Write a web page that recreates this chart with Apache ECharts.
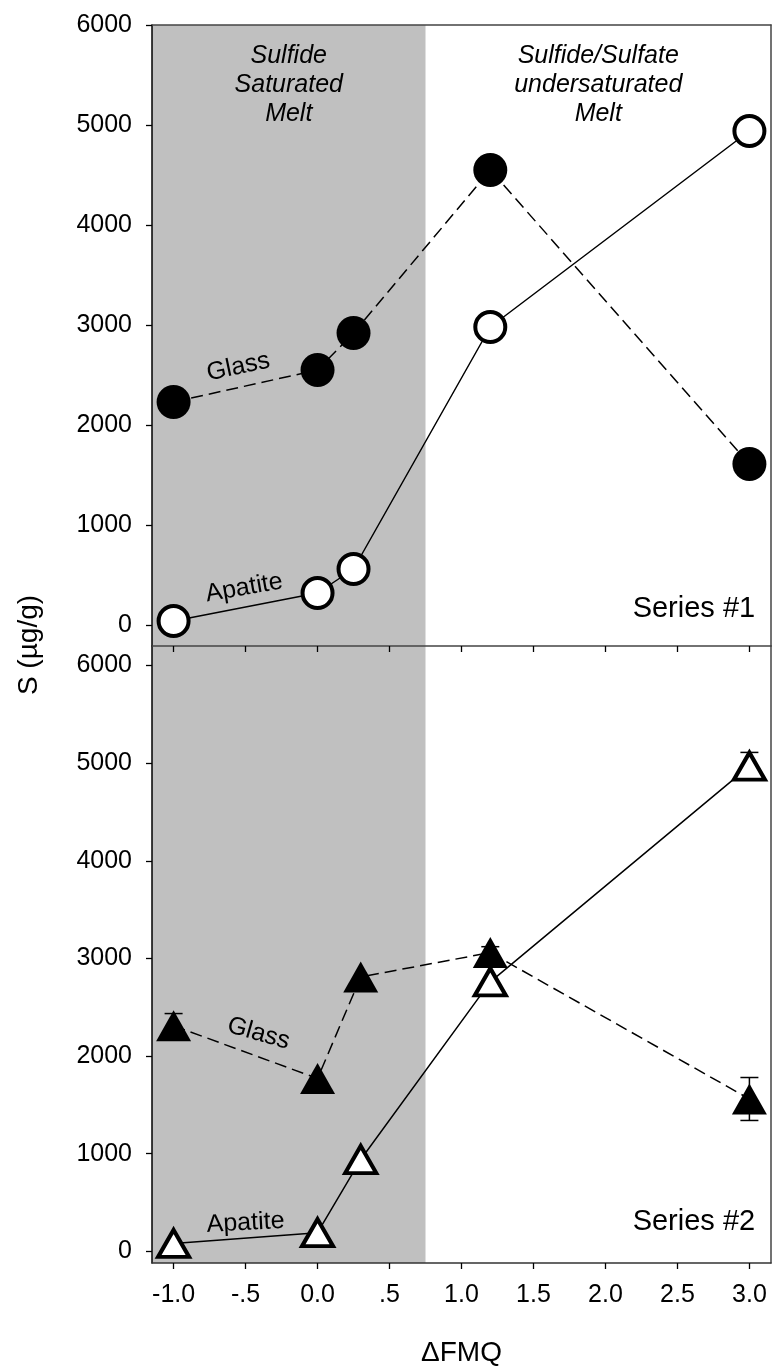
<!DOCTYPE html>
<html><head><meta charset="utf-8">
<script src="https://cdn.jsdelivr.net/npm/echarts@6/dist/echarts.min.js"></script>
<style>html,body{margin:0;padding:0;background:#fff}#c{width:773px;height:1368px}</style>
</head><body><div id="c"></div><script>
// ---- data ----
const xTickValues = [-1, -0.5, 0, 0.5, 1, 1.5, 2, 2.5, 3];
const xTickLabels = ['-1.0', '-.5', '0.0', '.5', '1.0', '1.5', '2.0', '2.5', '3.0'];
const yTickValues = [0, 1000, 2000, 3000, 4000, 5000, 6000];
const yTickLabels = ['0', '1000', '2000', '3000', '4000', '5000', '6000'];
const saturationLimit = 0.75;

const xTop = [-1.0, 0.0, 0.25, 1.2, 3.0];
const glassTop = [2230, 2550, 2920, 4550, 1610];
const apatiteTop = [40, 320, 560, 2980, 4940];

const xBottom = [-1.0, 0.0, 0.3, 1.2, 3.0];
const glassBottom = [2310, 1770, 2810, 3060, 1560];
const glassBottomErr = [125, 0, 0, 60, 220];
const apatiteBottom = [80, 190, 940, 2760, 4970];
const apatiteBottomErr = [0, 0, 0, 0, 140];

// annotation anchors (data coords)
const annotTop = [
  {text: 'Glass', x: -0.55, y: 2580, rotate: 12},
  {text: 'Apatite', x: -0.51, y: 370, rotate: 10},
  {text: 'Series #1', x: 3.04, y: 160, rotate: 0, align: 'right', big: true},
  {text: 'Sulfide\nSaturated\nMelt', x: -0.2, y: 5400, rotate: 0, italic: true},
  {text: 'Sulfide/Sulfate\nundersaturated\nMelt', x: 1.95, y: 5400, rotate: 0, italic: true}
];
const annotBottom = [
  {text: 'Glass', x: -0.41, y: 2230, rotate: -16},
  {text: 'Apatite', x: -0.5, y: 290, rotate: 3},
  {text: 'Series #2', x: 3.04, y: 300, rotate: 0, align: 'right', big: true}
];

// ---- chart ----
const FONT = '"Liberation Sans", Arial, Helvetica, sans-serif';
const chart = echarts.init(document.getElementById('c'), null, {renderer: 'canvas'});
const zip = (xs, ys) => xs.map((x, i) => [x, ys[i]]);
const lookup = (vals, labels) => v => {
  const i = vals.findIndex(t => Math.abs(t - v) < 1e-9);
  return i >= 0 ? labels[i] : '';
};
const xLabelFmt = lookup(xTickValues, xTickLabels);
const yLabelFmt = lookup(yTickValues, yTickLabels);

function xAxisBase(gridIndex, extra) {
  return Object.assign({
    type: 'value', gridIndex, min: -1.15, max: 3.15, z: 10,
    splitLine: {show: false},
    axisLine: {show: true, onZero: false, lineStyle: {color: '#444', width: 1.5}},
    axisTick: {show: true, customValues: xTickValues, length: 6, lineStyle: {color: '#000', width: 1.3}},
    axisLabel: {show: false}
  }, extra);
}
function yAxisBase(gridIndex, min, max, extra) {
  return Object.assign({
    type: 'value', gridIndex, min, max, z: 10,
    splitLine: {show: false},
    axisLine: {show: true, onZero: false, lineStyle: {color: '#000', width: 1.5}},
    axisTick: {show: true, customValues: yTickValues, length: 6, lineStyle: {color: '#000', width: 1.3}},
    axisLabel: {show: true, customValues: yTickValues, formatter: yLabelFmt, fontSize: 25, fontFamily: FONT, color: '#000', margin: 20}
  }, extra);
}
const plainLine = {show: true, onZero: false, lineStyle: {color: '#444', width: 1.5}};

function shadeSeries(xi, yi) {
  return {
    type: 'custom', xAxisIndex: xi, yAxisIndex: yi, z: 1, silent: true,
    data: [[saturationLimit]],
    renderItem(params, api) {
      const cs = params.coordSys;
      const xr = api.coord([api.value(0), 0])[0];
      return {type: 'rect', shape: {x: cs.x, y: cs.y, width: xr - cs.x, height: cs.height},
        style: {fill: '#c0c0c0'}};
    }
  };
}
function annotSeries(list, xi, yi) {
  return {
    type: 'scatter', xAxisIndex: xi, yAxisIndex: yi, z: 6, silent: true,
    symbolSize: 1, itemStyle: {color: 'transparent'},
    data: list.map(a => ({
      value: [a.x, a.y],
      label: {
        show: true, position: 'inside', formatter: a.text, rotate: a.rotate,
        align: a.align || 'center', verticalAlign: 'middle',
        fontSize: a.big ? 29 : 25, fontFamily: FONT, color: '#000',
        textBorderWidth: 0, opacity: 1,
        fontStyle: a.italic ? 'italic' : 'normal', lineHeight: 29
      }
    }))
  };
}
const dashed = {color: '#000', width: 1.5, type: [12, 6]};
const solid = {color: '#000', width: 1.5, type: 'solid'};

const errData = [];
xBottom.forEach((x, i) => {
  if (glassBottomErr[i]) errData.push([x, glassBottom[i] - glassBottomErr[i], glassBottom[i] + glassBottomErr[i]]);
  if (apatiteBottomErr[i]) errData.push([x, apatiteBottom[i] - apatiteBottomErr[i], apatiteBottom[i] + apatiteBottomErr[i]]);
});

chart.setOption({
  animation: false,
  backgroundColor: '#fff',
  grid: [
    {left: 152, width: 619, top: 25, height: 621, containLabel: false},
    {left: 152, width: 619, top: 646, height: 620, containLabel: false}
  ],
  xAxis: [
    xAxisBase(0, {position: 'bottom'}),
    xAxisBase(1, {position: 'bottom',
      axisLine: {show: true, onZero: false, lineStyle: {color: '#333', width: 1.5}},
      axisLabel: {show: true, customValues: xTickValues, formatter: xLabelFmt, fontSize: 25, fontFamily: FONT, color: '#000', margin: 20},
      name: '\u0394FMQ', nameLocation: 'middle', nameGap: 76,
      nameTextStyle: {fontSize: 28, fontFamily: FONT, color: '#000'}}),
    {type: 'value', gridIndex: 0, position: 'top', min: -1.15, max: 3.15, z: 10, axisLine: plainLine,
      axisTick: {show: false}, axisLabel: {show: false}, splitLine: {show: false}},
    {type: 'value', gridIndex: 1, position: 'top', min: -1.15, max: 3.15, z: 10, axisLine: {show: false},
      axisTick: {show: false}, axisLabel: {show: false}, splitLine: {show: false}}
  ],
  yAxis: [
    yAxisBase(0, -210, 6000),
    yAxisBase(1, -120, 6200),
    {type: 'value', gridIndex: 0, position: 'right', min: -210, max: 6000, z: 10, axisLine: plainLine,
      axisTick: {show: false}, axisLabel: {show: false}, splitLine: {show: false}},
    {type: 'value', gridIndex: 1, position: 'right', min: -120, max: 6200, z: 10, axisLine: plainLine,
      axisTick: {show: false}, axisLabel: {show: false}, splitLine: {show: false}}
  ],
  graphic: [
    {type: 'text', x: 29, y: 645, rotation: Math.PI / 2, z: 20,
      style: {text: 'S (\u00b5g/g)', fontSize: 28, fontFamily: FONT, fill: '#000', textAlign: 'center', textVerticalAlign: 'middle'}}
  ],
  series: [
    shadeSeries(0, 0),
    shadeSeries(1, 1),
    {
      type: 'custom', xAxisIndex: 1, yAxisIndex: 1, z: 2, silent: true, data: errData,
      renderItem(params, api) {
        const x = api.value(0);
        const pLo = api.coord([x, api.value(1)]);
        const pHi = api.coord([x, api.value(2)]);
        const w = 9, st = {stroke: '#000', lineWidth: 1.5};
        return {type: 'group', children: [
          {type: 'line', shape: {x1: pLo[0], y1: pLo[1], x2: pHi[0], y2: pHi[1]}, style: st},
          {type: 'line', shape: {x1: pLo[0] - w, y1: pLo[1], x2: pLo[0] + w, y2: pLo[1]}, style: st},
          {type: 'line', shape: {x1: pHi[0] - w, y1: pHi[1], x2: pHi[0] + w, y2: pHi[1]}, style: st}
        ]};
      }
    },
    {
      name: 'Glass #1', type: 'line', xAxisIndex: 0, yAxisIndex: 0, z: 3,
      data: zip(xTop, glassTop), symbol: 'circle', symbolSize: 34, showSymbol: true,
      itemStyle: {color: '#000', borderWidth: 0}, lineStyle: dashed
    },
    {
      name: 'Apatite #1', type: 'line', xAxisIndex: 0, yAxisIndex: 0, z: 4,
      data: zip(xTop, apatiteTop), symbol: 'circle', symbolSize: 30, showSymbol: true,
      itemStyle: {color: '#fff', borderColor: '#000', borderWidth: 4}, lineStyle: solid
    },
    {
      name: 'Glass #2', type: 'line', xAxisIndex: 1, yAxisIndex: 1, z: 3,
      data: zip(xBottom, glassBottom), symbol: 'triangle', symbolSize: [35, 31], showSymbol: true,
      itemStyle: {color: '#000', borderWidth: 0}, lineStyle: dashed
    },
    {
      name: 'Apatite #2', type: 'line', xAxisIndex: 1, yAxisIndex: 1, z: 4,
      data: zip(xBottom, apatiteBottom), symbol: 'triangle', symbolSize: [31, 27], showSymbol: true,
      itemStyle: {color: '#fff', borderColor: '#000', borderWidth: 4, borderJoin: 'miter', borderMiterLimit: 10},
      lineStyle: solid
    },
    annotSeries(annotTop, 0, 0),
    annotSeries(annotBottom, 1, 1)
  ]
});
</script></body></html>
